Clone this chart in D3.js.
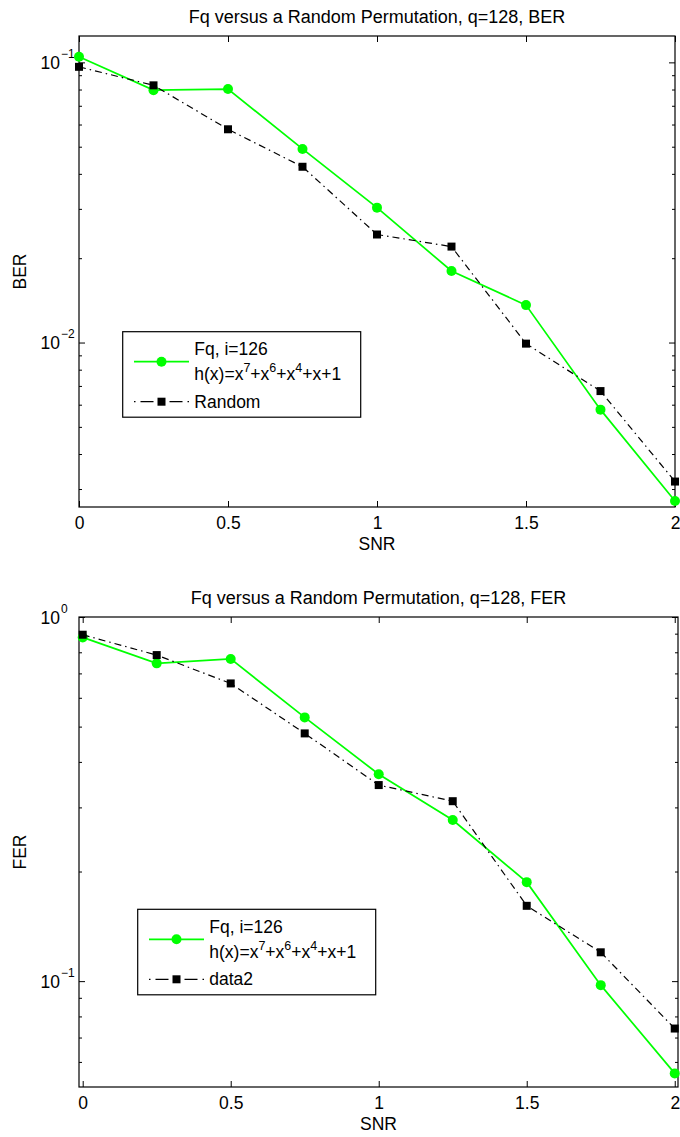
<!DOCTYPE html>
<html>
<head>
<meta charset="utf-8">
<script src="https://cdn.jsdelivr.net/npm/d3@7"></script>
<style>
  body { margin: 0; background: #fff; }
  text { font-family: Arial, "Liberation Sans", sans-serif; fill: #000; }
</style>
</head>
<body>
<div id="chart"></div>
<script>
// data
var snr = [0, 0.25, 0.5, 0.75, 1, 1.25, 1.5, 1.75, 2];
var berFq = [0.1047, 0.0796, 0.0803, 0.0491, 0.0303, 0.0180, 0.0136, 0.00576, 0.00272];
var berRandom = [0.0964, 0.0828, 0.0577, 0.0424, 0.0243, 0.0220, 0.00991, 0.00671, 0.00319];
var ferFq = [0.879, 0.746, 0.767, 0.530, 0.370, 0.277, 0.187, 0.0975, 0.0558];
var ferRandom = [0.894, 0.786, 0.657, 0.479, 0.3455, 0.312, 0.161, 0.120, 0.0741];
var xTicks = [0, 0.5, 1, 1.5, 2];
var titles = ["Fq versus a Random Permutation, q=128, BER", "Fq versus a Random Permutation, q=128, FER"];
var yLabels = ["BER", "FER"];
var legendNames = ["Random", "data2"];

var svg = d3.select("#chart")
  .append("svg")
  .attr("width", 680)
  .attr("height", 1137);

var green = "#00ff00";
var dashDot = "7,4,1.5,4";

function drawPanel(p) {
  var x = d3.scaleLinear().domain(p.xDomain).range([p.left, p.right]);
  var y = d3.scaleLog().domain(p.yDomain).range([p.bottom, p.top]);
  var g = svg.append("g");

  // decades get labels, the rest are minor ticks
  var allTicks = y.ticks();
  var majors = allTicks.filter(d => Math.abs(Math.log10(d) - Math.round(Math.log10(d))) < 1e-9);
  var minors = allTicks.filter(d => majors.indexOf(d) < 0);

  // x axes (bottom with labels, top without)
  var xb = g.append("g")
    .attr("transform", `translate(0, ${p.bottom})`)
    .call(d3.axisBottom(x).tickValues(xTicks).tickSizeInner(-6).tickSizeOuter(0)
      .tickPadding(9.5).tickFormat(d => d));
  g.append("g")
    .attr("transform", `translate(0, ${p.top})`)
    .call(d3.axisTop(x).tickValues(xTicks).tickSizeInner(-6).tickSizeOuter(0).tickFormat(""));

  // y axes, left and right
  g.append("g").attr("transform", `translate(${p.left}, 0)`)
    .call(d3.axisLeft(y).tickValues(majors).tickSizeInner(-6).tickSizeOuter(0).tickFormat(""));
  g.append("g").attr("transform", `translate(${p.left}, 0)`)
    .call(d3.axisLeft(y).tickValues(minors).tickSizeInner(-3).tickSizeOuter(0).tickFormat(""));
  g.append("g").attr("transform", `translate(${p.right}, 0)`)
    .call(d3.axisRight(y).tickValues(majors).tickSizeInner(-6).tickSizeOuter(0).tickFormat(""));
  g.append("g").attr("transform", `translate(${p.right}, 0)`)
    .call(d3.axisRight(y).tickValues(minors).tickSizeInner(-3).tickSizeOuter(0).tickFormat(""));

  g.selectAll(".domain").remove();
  xb.selectAll("text").attr("font-size", 17.5).attr("font-family", "Arial, 'Liberation Sans', sans-serif");

  // 10^n labels
  majors.forEach(function(v) {
    var e = Math.round(Math.log10(v));
    g.append("text")
      .attr("x", p.left - 19)
      .attr("y", y(v) + 6.5)
      .attr("text-anchor", "end")
      .attr("font-size", 17.5)
      .text("10");
    g.append("text")
      .attr("x", p.left - 18)
      .attr("y", y(v) - 4.5)
      .attr("font-size", 12)
      .text(e < 0 ? "\u2212" + (-e) : String(e));
  });

  // frame
  g.append("rect")
    .attr("x", p.left).attr("y", p.top)
    .attr("width", p.right - p.left).attr("height", p.bottom - p.top)
    .attr("fill", "none").attr("stroke", "#000").attr("stroke-width", 1.2);

  // title and axis labels
  g.append("text")
    .attr("x", (p.left + p.right) / 2).attr("y", p.top - 13.5)
    .attr("text-anchor", "middle").attr("font-size", 18)
    .text(p.title);
  g.append("text")
    .attr("x", (p.left + p.right) / 2).attr("y", p.bottom + 43)
    .attr("text-anchor", "middle").attr("font-size", 17.5)
    .text("SNR");
  g.append("text")
    .attr("transform", `translate(26, ${(p.top + p.bottom) / 2}) rotate(-90)`)
    .attr("text-anchor", "middle").attr("font-size", 17.5)
    .text(p.yLabel);

  // series
  var line = d3.line().x(d => x(d[0])).y(d => y(d[1]));
  var fqData = snr.map((s, i) => [s, p.fq[i]]);
  var rndData = snr.map((s, i) => [s, p.rnd[i]]);

  g.append("path").datum(fqData)
    .attr("d", line).attr("fill", "none")
    .attr("stroke", green).attr("stroke-width", 1.7);
  g.selectAll(".fqDot").data(fqData).enter()
    .append("circle").attr("class", "fqDot")
    .attr("cx", d => x(d[0])).attr("cy", d => y(d[1]))
    .attr("r", 5).attr("fill", green);

  g.append("path").datum(rndData)
    .attr("d", line).attr("fill", "none")
    .attr("stroke", "#000").attr("stroke-width", 1.2)
    .attr("stroke-dasharray", dashDot);
  g.selectAll(".rndSq").data(rndData).enter()
    .append("path").attr("class", "rndSq")
    .attr("transform", d => `translate(${x(d[0])}, ${y(d[1])})`)
    .attr("d", d3.symbol().type(d3.symbolSquare).size(64))
    .attr("fill", "#000");

  // legend
  var L = g.append("g").attr("transform", `translate(${p.legend[0]}, ${p.legend[1]})`);
  L.append("rect").attr("width", 238).attr("height", 85.5)
    .attr("fill", "#fff").attr("stroke", "#000").attr("stroke-width", 1.2);
  L.append("line").attr("x1", 11.3).attr("x2", 66.3).attr("y1", 30).attr("y2", 30)
    .attr("stroke", green).attr("stroke-width", 1.7);
  L.append("circle").attr("cx", 38.8).attr("cy", 30).attr("r", 5).attr("fill", green);
  L.append("line").attr("x1", 11.3).attr("x2", 66.3).attr("y1", 70).attr("y2", 70)
    .attr("stroke", "#000").attr("stroke-width", 1.2)
    .attr("stroke-dasharray", "1.5,5,13,16,13,5,1.5");
  L.append("path").attr("transform", "translate(38.8, 70)")
    .attr("d", d3.symbol().type(d3.symbolSquare).size(64)).attr("fill", "#000");

  L.append("text").attr("x", 71.6).attr("y", 23.4).attr("font-size", 17.5).text("Fq, i=126");
  var h = L.append("text").attr("x", 71.6).attr("y", 48.5).attr("font-size", 17.5);
  [["h(x)=x", 0], ["7", 1], ["+x", 0], ["6", 1], ["+x", 0], ["4", 1], ["+x+1", 0]].forEach(function(part, i, arr) {
    var prev = i > 0 ? arr[i - 1][1] : 0;
    var dy = part[1] - prev; // +1 going up, -1 going down
    h.append("tspan")
      .attr("dy", dy === 1 ? -8 : dy === -1 ? 8 : 0)
      .attr("font-size", part[1] ? 12.5 : 17.5)
      .text(part[0]);
  });
  L.append("text").attr("x", 71.6).attr("y", 76).attr("font-size", 17.5).text(p.rndName);
}

drawPanel({
  left: 79, right: 675, top: 36, bottom: 507,
  xDomain: [0, 2], yDomain: [0.002588, 0.1242],
  fq: berFq, rnd: berRandom,
  title: titles[0], yLabel: yLabels[0], rndName: legendNames[0],
  legend: [122.7, 331.7]
});

drawPanel({
  left: 79, right: 678, top: 617, bottom: 1087,
  xDomain: [-0.0125, 2.011], yDomain: [0.0512, 1],
  fq: ferFq, rnd: ferRandom,
  title: titles[1], yLabel: yLabels[1], rndName: legendNames[1],
  legend: [137.7, 909.3]
});
</script>
</body>
</html>
